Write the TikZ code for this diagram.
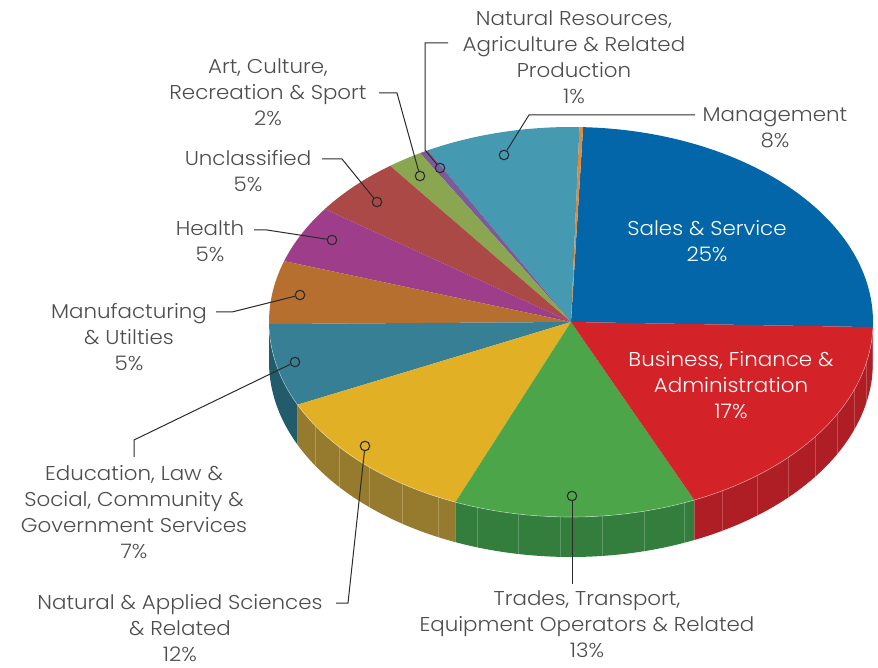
\documentclass[tikz,border=0pt]{standalone}
\usepackage{fontspec}
\setmainfont{Poppins}[UprightFont={* Light},FakeStretch=1.07]
\definecolor{cBlue}{HTML}{0266A8}
\definecolor{cBlueS}{HTML}{014E82}
\definecolor{cRed}{HTML}{D42229}
\definecolor{cRedS}{HTML}{AF1E24}
\definecolor{cGreen}{HTML}{4CA649}
\definecolor{cGreenS}{HTML}{337E3C}
\definecolor{cYellow}{HTML}{E1B024}
\definecolor{cYellowS}{HTML}{967A2E}
\definecolor{cDTeal}{HTML}{377F94}
\definecolor{cDTealS}{HTML}{225B6B}
\definecolor{cBrown}{HTML}{B66F2E}
\definecolor{cBrownS}{HTML}{8A5523}
\definecolor{cMagenta}{HTML}{9E3E8A}
\definecolor{cRedBrown}{HTML}{AB4946}
\definecolor{cOlive}{HTML}{8BA650}
\definecolor{cPurple}{HTML}{7B5C9A}
\definecolor{cTeal}{HTML}{459AB2}
\definecolor{cOrange}{HTML}{E08A3A}
\definecolor{txtgray}{HTML}{4D4D4D}
\definecolor{leadc}{HTML}{2B2B2B}
\begin{document}
\begin{tikzpicture}[x=1pt,y=1pt,
  lbl/.style={font=\fontsize{20}{26}\selectfont, text=txtgray, align=center, inner sep=0pt},
  wlbl/.style={lbl, text=white},
  dot/.style={circle, draw=leadc, line width=1.1pt, inner sep=0pt, minimum size=9.5pt},
  lead/.style={draw=leadc, line width=1pt},
]
\useasboundingbox (0,0) rectangle (878,667);
\def\cx{571}\def\cy{345}\def\rx{302}\def\ry{195}\def\dep{40}
\newcommand\topslice[3]{\fill[#3] (\cx,\cy) -- ++(#1:\rx pt and \ry pt) arc[start angle=#1,end angle=#2,x radius=\rx pt,y radius=\ry pt] -- cycle;}
\newcommand\sideslice[3]{\fill[#3] (\cx,\cy) ++(#1:\rx pt and \ry pt) arc[start angle=#1,end angle=#2,x radius=\rx pt,y radius=\ry pt] -- ++(0,-\dep) arc[start angle=#2,end angle=#1,x radius=\rx pt,y radius=\ry pt] -- cycle;}
% side walls
\sideslice{180}{180.6}{cBrownS}
\sideslice{180.6}{205.1}{cDTealS}
\sideslice{205.1}{247.5}{cYellowS}
\sideslice{247.5}{294.1}{cGreenS}
\sideslice{294.1}{358.5}{cRedS}
\sideslice{358.5}{360}{cBlueS}
\foreach \a in {212,220,...,356}
  \draw[white, opacity=0.22, line width=0.6pt] (\cx,\cy) ++(\a:\rx pt and \ry pt) -- ++(0,-\dep);
% top surface
\topslice{-1.5}{87.7}{cBlue}
\topslice{87.7}{88.4}{cOrange}
\topslice{88.4}{118.3}{cTeal}
\topslice{118.3}{120.0}{cPurple}
\topslice{120.0}{126.8}{cOlive}
\topslice{126.8}{144.6}{cRedBrown}
\topslice{144.6}{161.8}{cMagenta}
\topslice{161.8}{180.6}{cBrown}
\topslice{180.6}{205.1}{cDTeal}
\topslice{205.1}{247.5}{cYellow}
\topslice{247.5}{294.1}{cGreen}
\topslice{294.1}{358.5}{cRed}
\draw[white, opacity=0.45, line width=0.6pt] (\cx,\cy) ++(182:\rx pt and \ry pt) arc[start angle=182,end angle=358,x radius=\rx pt,y radius=\ry pt];
% labels
\node[lbl] (tNR) at (574,610) {Natural Resources,\\Agriculture \& Related\\Production\\1\%};
\node[lbl] (tMg) at (775,539) {Management\\8\%};
\node[lbl] (tArt) at (268,575) {Art, Culture,\\Recreation \& Sport\\2\%};
\node[lbl] (tUn) at (248,496) {Unclassified\\5\%};
\node[lbl] (tHe) at (210,426) {Health\\5\%};
\node[lbl] (tMa) at (129,330) {Manufacturing\\\& Utilties\\5\%};
\node[lbl] (tEd) at (134,155) {Education, Law \&\\Social, Community \&\\Government Services\\7\%};
\node[lbl] (tNA) at (180,39) {Natural \& Applied Sciences\\\& Related\\12\%};
\node[lbl] (tTr) at (587,43) {Trades, Transport,\\Equipment Operators \& Related\\13\%};
\node[wlbl] (tSa) at (707,426) {Sales \& Service\\25\%};
\node[wlbl] (tBu) at (731,282) {Business, Finance \&\\Administration\\17\%};
% leader dots
\node[dot] (dNR) at (440,499) {};
\node[dot] (dMg) at (504,512) {};
\node[dot] (dArt) at (420,491) {};
\node[dot] (dUn) at (377,465) {};
\node[dot] (dHe) at (332,427) {};
\node[dot] (dMa) at (300,372) {};
\node[dot] (dEd) at (295,305) {};
\node[dot] (dNA) at (365,221) {};
\node[dot] (dTr) at (572,171) {};
% bend points
\coordinate (bNR1) at (425,517); \coordinate (bNR2) at (425,624); \coordinate (eNR) at (448,624);
\coordinate (bMg) at (529,552); \coordinate (eMg) at (695,552);
\coordinate (bArt) at (397,574); \coordinate (eArt) at (379,574);
\coordinate (bUn) at (342,508); \coordinate (eUn) at (322,508);
\coordinate (bHe) at (267,437); \coordinate (eHe) at (254,437);
\coordinate (bMa) at (232,355); \coordinate (eMa) at (216,355);
\coordinate (bEd) at (134,227); \coordinate (eEd) at (134,210);
\coordinate (bNA) at (348,64); \coordinate (eNA) at (336,64);
\coordinate (eTr) at (572,83);
\draw[lead] (dNR) -- (bNR1) -- (bNR2) -- (eNR);
\draw[lead] (dMg) -- (bMg) -- (eMg);
\draw[lead] (dArt) -- (bArt) -- (eArt);
\draw[lead] (dUn) -- (bUn) -- (eUn);
\draw[lead] (dHe) -- (bHe) -- (eHe);
\draw[lead] (dMa) -- (bMa) -- (eMa);
\draw[lead] (dEd) -- (bEd) -- (eEd);
\draw[lead] (dNA) -- (bNA) -- (eNA);
\draw[lead] (dTr) -- (eTr);
\end{tikzpicture}
\end{document}
